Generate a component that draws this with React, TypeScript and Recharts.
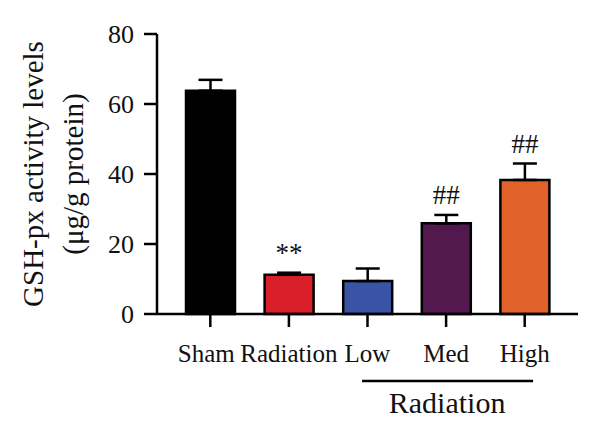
import { BarChart, Bar, XAxis, YAxis, Cell, ErrorBar, LabelList } from "recharts";

const groups = ["Sham", "Radiation", "Low", "Med", "High"];
const means = [63.8, 11.2, 9.4, 25.9, 38.3];
const errors = [3.1, 0.6, 3.6, 2.4, 4.7];
const marks = ["", "**", "", "##", "##"];
const COLORS = ["#000000", "#d9202a", "#3954a5", "#53194f", "#e0612a"];
const Y_TICKS = [0, 20, 40, 60, 80];

const FONT = "'Liberation Serif', 'Times New Roman', serif";
const serif = { fontFamily: FONT };

const data = groups.map((g, i) => ({
  group: g,
  value: means[i],
  err: [0, errors[i]],
  mark: marks[i],
}));

function XTick(props: any) {
  const { x, y, payload } = props;
  // the first label sits a little left of its tick in the original
  const shift = payload.value === "Sham" ? -4 : 0;
  return (
    <g>
      <text x={x + shift} y={y} dy="0.71em" textAnchor="middle" fontSize={25} fill="#111" style={serif}>
        {payload.value}
      </text>
      {payload.value === "Med" && (
        <g>
          <line x1={x - 84} x2={x + 87} y1={y + 37} y2={y + 37} stroke="#000" strokeWidth={2.5} />
          <text x={x + 1} y={y + 69} textAnchor="middle" fontSize={30} fill="#111" style={serif}>
            Radiation
          </text>
        </g>
      )}
    </g>
  );
}

function YTick(props: any) {
  const { x, y, payload } = props;
  return (
    <text x={x} y={y} textAnchor="end" dominantBaseline="central" fontSize={26} fill="#111" style={serif}>
      {payload.value}
    </text>
  );
}

function YLabel(props: any) {
  const { viewBox } = props;
  const cy = viewBox.y + viewBox.height / 2;
  const x1 = viewBox.x + 33;
  const x2 = viewBox.x + 73;
  return (
    <g fontSize={29} fill="#111" style={serif}>
      <text x={x1} y={cy} transform={`rotate(-90 ${x1} ${cy})`} textAnchor="middle" dominantBaseline="central">
        GSH-px activity levels
      </text>
      <text x={x2} y={cy} transform={`rotate(-90 ${x2} ${cy})`} textAnchor="middle" dominantBaseline="central">
        (μg/g protein)
      </text>
    </g>
  );
}

function MarkLabel(props: any) {
  const { x, y, width, height, index, value } = props;
  if (!value) return null;
  const scale = height / means[index];
  const top = y - errors[index] * scale;
  return (
    <text x={x + width / 2} y={top - 20} textAnchor="middle" dominantBaseline="central" fontSize={27} fill="#111" style={serif}>
      {value}
    </text>
  );
}

export default function App() {
  return (
    <div style={{ position: "absolute", left: 0, top: 0, width: 600, height: 437, background: "#fff", fontFamily: FONT }}>
      <BarChart width={600} height={437} data={data} margin={{ top: 34, right: 22, bottom: 0, left: 0 }}>
        <XAxis
          dataKey="group"
          height={123}
          padding={{ left: 14, right: 14 }}
          axisLine={{ stroke: "#000", strokeWidth: 2.5 }}
          tickLine={{ stroke: "#000", strokeWidth: 2.5 }}
          tickSize={13}
          tickMargin={17}
          tick={<XTick />}
          interval={0}
        />
        <YAxis
          width={157}
          domain={[0, 80]}
          ticks={Y_TICKS}
          axisLine={{ stroke: "#000", strokeWidth: 2.5 }}
          tickLine={{ stroke: "#000", strokeWidth: 2.5 }}
          tickSize={13}
          tickMargin={10}
          tick={<YTick />}
          label={{ content: <YLabel /> }}
        />
        <Bar dataKey="value" barSize={49} stroke="#000" strokeWidth={2.5} isAnimationActive={false}>
          {data.map((entry, index) => (
            <Cell key={`cell-${index}`} fill={COLORS[index]} />
          ))}
          <ErrorBar dataKey="err" direction="y" width={12} stroke="#000" strokeWidth={2.5} />
          <LabelList dataKey="mark" content={<MarkLabel />} />
        </Bar>
      </BarChart>
    </div>
  );
}
